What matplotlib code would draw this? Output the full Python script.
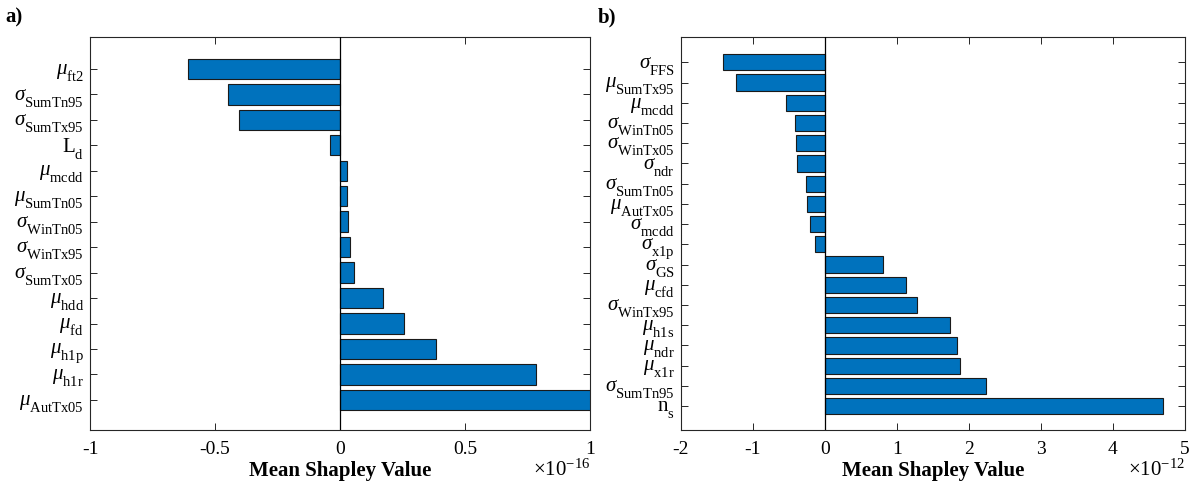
import matplotlib
matplotlib.use("Agg")
import matplotlib.pyplot as plt
import matplotlib._mathtext as mtext
from matplotlib.transforms import ScaledTranslation, blended_transform_factory
import numpy as np

plt.rcParams["font.family"] = "Liberation Serif"
plt.rcParams["mathtext.fontset"] = "custom"
plt.rcParams["mathtext.rm"] = "Liberation Serif"
plt.rcParams["mathtext.it"] = "Liberation Serif:italic"
plt.rcParams["mathtext.bf"] = "Liberation Serif:bold"
plt.rcParams["axes.unicode_minus"] = False
# MATLAB TeX labels drop the subscript further than mathtext does
mtext.FontConstantsBase.sub1 = 0.72

# ---- panel a) values in units of 1e-16, top to bottom ----
labels_a = [r"\mu_{ft2}", r"\sigma_{SumTn95}", r"\sigma_{SumTx95}", r"L_{d}",
            r"\mu_{mcdd}", r"\mu_{SumTn05}", r"\sigma_{WinTn05}", r"\sigma_{WinTx95}",
            r"\sigma_{SumTx05}", r"\mu_{hdd}", r"\mu_{fd}", r"\mu_{h1p}",
            r"\mu_{h1r}", r"\mu_{AutTx05}"]
values_a = [-0.61, -0.45, -0.405, -0.04, 0.028, 0.028, 0.032, 0.04,
            0.056, 0.173, 0.257, 0.386, 0.783, 1.08]
ticks_a = [-1, -0.5, 0, 0.5, 1]

# ---- panel b) values in units of 1e-12, top to bottom ----
labels_b = [r"\sigma_{FFS}", r"\mu_{SumTx95}", r"\mu_{mcdd}", r"\sigma_{WinTn05}",
            r"\sigma_{WinTx05}", r"\sigma_{ndr}", r"\sigma_{SumTn05}", r"\mu_{AutTx05}",
            r"\sigma_{mcdd}", r"\sigma_{x1p}", r"\sigma_{GS}", r"\mu_{cfd}",
            r"\sigma_{WinTx95}", r"\mu_{h1s}", r"\mu_{ndr}", r"\mu_{x1r}",
            r"\sigma_{SumTn95}", r"n_{s}"]
values_b = [-1.42, -1.24, -0.54, -0.42, -0.40, -0.39, -0.265, -0.25,
            -0.21, -0.14, 0.81, 1.13, 1.28, 1.73, 1.83, 1.87, 2.23, 4.70]
ticks_b = [-2, -1, 0, 1, 2, 3, 4, 5]

BAR_COLOR = "#0072BD"
AX_COLOR = "#262626"


def fmt_label(s):
    # italic greek base, roman subscript, as in MATLAB TeX labels
    base, sub = s.split("_")
    sub = sub.strip("{}")
    if base.startswith("\\"):
        return rf"${base}_{{\mathrm{{{sub}}}}}$"
    return rf"$\mathrm{{{base}}}_{{\mathrm{{{sub}}}}}$"


def draw_panel(fig, ax, labels, values, ticks, xlim, exponent, tag):
    n = len(values)
    pos = np.arange(1, n + 1)
    ax.barh(pos, values, height=0.8, color=BAR_COLOR, edgecolor="#1a1a1a",
            linewidth=0.8, zorder=2)
    ax.axvline(0, color="black", linewidth=0.9, zorder=3)
    ax.set_xlim(*xlim)
    ax.set_ylim(n + 1.18, -0.25)
    ax.set_yticks(pos)
    ax.set_yticklabels([])
    # tick labels drawn by hand so they can sit a little below the tick
    trans = blended_transform_factory(ax.transAxes, ax.transData) + \
        ScaledTranslation(-4.5 / 72, -3 / 72, fig.dpi_scale_trans)
    for p, lab in zip(pos, labels):
        ax.text(0, p, fmt_label(lab), transform=trans, ha="right", va="center",
                fontsize=15, clip_on=False)
    ax.set_xticks(ticks)
    ax.set_xticklabels([f"{t:g}" for t in ticks], fontsize=14)
    ax.tick_params(direction="in", length=5, width=0.7, color=AX_COLOR,
                   top=True, right=True, labelcolor="black")
    ax.tick_params(axis="x", pad=8)
    for sp in ax.spines.values():
        sp.set_color(AX_COLOR)
        sp.set_linewidth(0.8)
    ax.set_xlabel("Mean Shapley Value", fontsize=15, fontweight="bold", labelpad=2)
    ax.text(1.0, -0.075, r"$\times\mathrm{10}^{\mathrm{" + exponent + "}}$",
            transform=ax.transAxes, ha="right", va="top", fontsize=15)
    ax.text(-0.17 if tag == "a)" else -0.165, 1.075, tag, transform=ax.transAxes,
            ha="left", va="top", fontsize=15, fontweight="bold")


fig = plt.figure(figsize=(11.89, 4.87), dpi=100)
ax_a = fig.add_axes([0.0757, 0.117, 0.4205, 0.807])
ax_b = fig.add_axes([0.5727, 0.117, 0.4239, 0.807])

draw_panel(fig, ax_a, labels_a, values_a, ticks_a, (-1, 1), "-16", "a)")
draw_panel(fig, ax_b, labels_b, values_b, ticks_b, (-2, 5), "-12", "b)")

fig.savefig("out.png", dpi=100)
